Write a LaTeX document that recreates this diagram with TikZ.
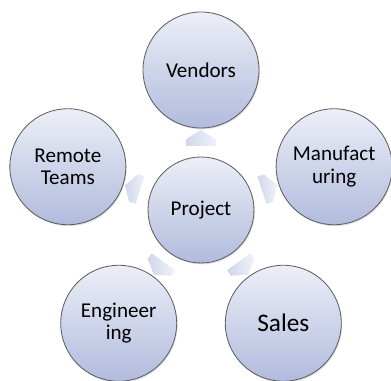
\documentclass[tikz,border=0pt]{standalone}
\usepackage{fontspec}
\setmainfont{Carlito}
\usetikzlibrary{shapes.symbols,shadows}
\definecolor{ringtop}{HTML}{ECEFF8}
\definecolor{ringbot}{HTML}{B1BBDC}
\definecolor{ringline}{HTML}{606060}
\definecolor{arrtop}{HTML}{F0F2F9}
\definecolor{arrbot}{HTML}{D0D7EB}
\tikzset{
	ring/.style = {circle, draw = ringline, line width = 0.6pt, top color = ringtop, bottom color = ringbot,
		minimum size = 2.9cm, inner sep = 0pt, align = center, text = black,
		font = \fontsize{15}{16}\selectfont,
		drop shadow = {shadow xshift = 0.6pt, shadow yshift = -1pt, opacity = 0.25}},
	hub/.style = {ring, minimum size = 2.65cm},
	pointer/.style = {signal, signal to = east, signal from = nowhere, signal pointer angle = 115,
		minimum width = 0.4cm, minimum height = 0.72cm, inner sep = 0pt,
		left color = arrbot, right color = arrtop, draw = none,
		sloped, allow upside down}
}
\begin{document}
\begin{tikzpicture}
		\useasboundingbox (-5.025,-4.275) rectangle (4.75,5.25);
		\node [hub] (proj) at (0,0) {Project};
		\node [ring] (vend) at (90:3.5) {Vendors};
		\node [ring] (remote) at (162:3.5) {Remote\\Teams};
		\node [ring] (engin) at (234:3.5) {Engineer\\ing};
		\node [ring, font = \fontsize{18}{19}\selectfont] (sales) at (306:3.5) {Sales};
		\node [ring] (manuf) at (18:3.5) {Manufact\\uring};
		% pointers between the hub and the rings
		\path (proj) -- node [pointer] (pvend) {} (vend);
		\path (proj) -- node [pointer] (premote) {} (remote);
		\path (proj) -- node [pointer] (pengin) {} (engin);
		\path (proj) -- node [pointer] (psales) {} (sales);
		\path (proj) -- node [pointer] (pmanuf) {} (manuf);
	\end{tikzpicture}
\end{document}
